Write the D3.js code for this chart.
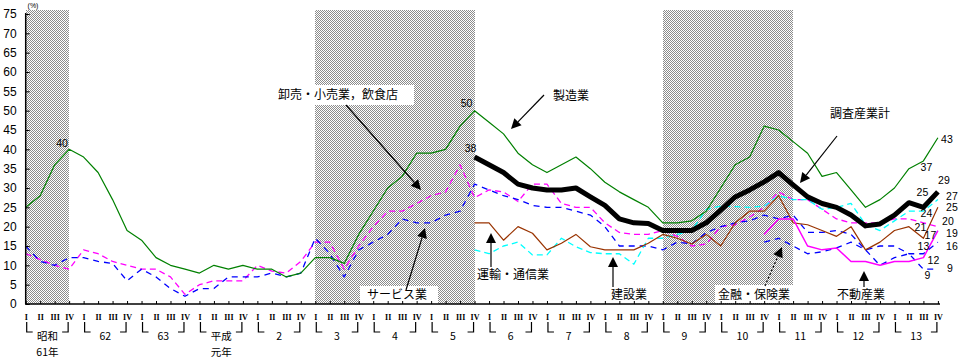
<!DOCTYPE html>
<html><head><meta charset="utf-8">
<script src="https://cdn.jsdelivr.net/npm/d3@7"></script>
<style>body{margin:0;background:#fff}svg{display:block}</style>
</head><body><div id="chart"></div>
<script>
// ---- data ----
const quarterLabels = ["I","II","III","IV"];
const yearLabels = [["昭和","61年"],["62"],["63"],["平成","元年"],["2"],["3"],["4"],["5"],["6"],["7"],["8"],["9"],["10"],["11"],["12"],["13"]];
const yTicks = [0,5,10,15,20,25,30,35,40,45,50,55,60,65,70,75];
const recessions = [[0,3],[20,31],[44,53]];

// 製造業 (1986 I – 2001 IV)
const manufacturing = [25,28,36,40,38,34,27,19,16.5,12,10,9,8,10,9,10,9,9,7,8,
  12,12,10.5,18,24,30,33,39,39,40,46,50,47,44,39,36,34,36,38,35,31.5,29,27,25,
  21,21,21.5,24,30,36,38,46,45,42,39,33,34,29.5,25,27,30,35,37,43];
// 卸売・小売業，飲食店
const wholesale = [13,11.5,10,9,14,13,11,10,9,9,7,2.5,5,6,6,6,10,8.5,8,11,
  16,16,9,15,20,24,24,26,28,29,36,27.5,29.5,29,26.5,31,31,26,25,25,21,18.5,18,18,
  19,17.5,15,15.5,20,20.5,22.5,25,29,27,27,24.5,22,21,21,21,22,22,21,20];
// サービス業
const services = [15,11,10,12,12,11,10.5,6,9,7,4,2,4,4,7,7,7,8,7,8,
  17,13,7,14,16,18,22,21,21,23,24,31,29.5,28,27,25.5,25,25,24,23,20,15,15,15,
  14,16,15.5,18.5,20,21,21.5,23,22,23,18.5,18.5,19,18,14,15,15,13,13,16];
// 調査産業計 (from 1993 IV)
const allIndustries = [38,36,34,31,30,29.5,29.5,30,27.7,25.5,22,21,20.8,
  19,19,19,21,24.3,27.7,29.5,31.6,34,30.8,27.7,26,25,23,20.2,20.7,23,26.2,25,29];
// 建設業 (from 1993 IV)
const construction = [14,13,15,16,12.7,12.7,17,14.8,13.3,13,13,10.3,17,
  17,18,19,24.5,25.3,25.2,25,25.3,28,27,27,24.5,25,26,20.5,19,21.5,24,24,27];
// 運輸・通信業 (from 1993 IV)
const transport = [21,21,16.5,20,18.3,14,15.7,18,14.8,14,14,14,15.7,
  18,17,15.5,18,15,21,24,24,28,21,20.5,19,17.5,20,14,16,19,20,17,25];
// 金融・保険業 (from 1998 IV)
const finance = [16,17,15,13,13.5,14.5,16,14,10,12,13,9,9];
// 不動産業 (from 1998 IV)
const realEstate = [18,22,22,15,14,14.5,11,11,10,11,11,12,19];

const series = [
  {key:"wholesale", start:0, values:wholesale, color:"#ff00ff", width:1.3, dash:"6,4"},
  {key:"services", start:0, values:services, color:"#0000ff", width:1.3, dash:"6,5"},
  {key:"construction", start:31, values:construction, color:"#00ffff", width:1.3, dash:"6,4"},
  {key:"transport", start:31, values:transport, color:"#993300", width:1.2, dash:null},
  {key:"finance", start:51, values:finance, color:"#0000ff", width:1.3, dash:"6,5"},
  {key:"realEstate", start:51, values:realEstate, color:"#ff00ff", width:1.5, dash:null},
  {key:"manufacturing", start:0, values:manufacturing, color:"#008000", width:1.2, dash:null},
  {key:"allIndustries", start:31, values:allIndustries, color:"#000000", width:5, dash:null}
];

// value labels: series key, quarter index, label offset (layout)
const valueLabels = [
  ["manufacturing",3,-7,-6],["manufacturing",31,-8,-8],["allIndustries",31,-4,-9],
  ["manufacturing",63,9,1],["manufacturing",62,3,6],
  ["allIndustries",63,6,-12],["allIndustries",62,-1,-15],
  ["construction",63,14,-4],["transport",63,14,0],["construction",62,3,2],
  ["wholesale",63,10,-6],["wholesale",62,-3,4],["realEstate",63,14,2.5],
  ["transport",62,7,-3],["services",63,14,3.5],["services",62,0,-8],
  ["realEstate",62,10,2],["finance",62,4,6],["finance",63,12,-1]
];

// ---- drawing ----
const W = 962, H = 358;
const svg = d3.select("#chart").append("svg").attr("width", W).attr("height", H)
  .style("font-family","'Noto Sans CJK JP', sans-serif");

const x = d3.scaleLinear().domain([0,63]).range([25.7, 937.9]);
const y = d3.scaleLinear().domain([0,75]).range([304, 14]);

const defs = svg.append("defs");
const pat = defs.append("pattern").attr("id","dither").attr("patternUnits","userSpaceOnUse")
  .attr("width",2).attr("height",2);
pat.append("rect").attr("width",2).attr("height",2).attr("fill","#fff");
pat.append("rect").attr("x",0).attr("y",0).attr("width",1).attr("height",1).attr("fill","#8c8c8c");
pat.append("rect").attr("x",1).attr("y",1).attr("width",1).attr("height",1).attr("fill","#8c8c8c");

// shaded bands
svg.append("g").selectAll("rect").data(recessions).join("rect")
  .attr("x", d => x(d[0])).attr("y", 10)
  .attr("width", d => x(d[1]) - x(d[0])).attr("height", y(0) - 10)
  .attr("fill","url(#dither)").attr("shape-rendering","crispEdges");

// white label boxes
const boxes = [[276,85,138,20],[360,286,78,18],[715,285,78,18]];
svg.append("g").selectAll("rect").data(boxes).join("rect")
  .attr("x",d=>d[0]).attr("y",d=>d[1]).attr("width",d=>d[2]).attr("height",d=>d[3]).attr("fill","#fff");

// lines
const line = d3.line().defined(d => d.v != null).x(d => x(d.q)).y(d => y(d.v));
svg.append("g").selectAll("path").data(series).join("path")
  .attr("d", s => line(s.values.map((v,i) => ({q:s.start+i, v}))))
  .attr("fill","none").attr("stroke", s => s.color).attr("stroke-width", s => s.width)
  .attr("stroke-dasharray", s => s.dash).attr("stroke-linejoin","round");

// y axis
const yAxis = d3.axisLeft(y).tickValues(yTicks).tickSize(-4).tickPadding(9);
const gy = svg.append("g").attr("transform","translate(25.7,0)").call(yAxis);
gy.select(".domain").attr("d","M0,13V304").attr("stroke-width",1.5);
gy.selectAll("text").attr("font-family","'Liberation Sans', Arial, sans-serif").attr("font-size",12);
svg.append("text").attr("x",33).attr("y",8).attr("text-anchor","middle")
  .attr("font-size",7).attr("font-family","'Liberation Sans', sans-serif").text("(%)");

// x axis
const xAxis = d3.axisBottom(x).tickValues(d3.range(64)).tickSize(-3).tickPadding(10)
  .tickFormat(i => quarterLabels[i % 4]);
const gx = svg.append("g").attr("transform","translate(0,304)").call(xAxis);
gx.select(".domain").attr("d","M25,0H940").attr("stroke-width",1.5);
gx.selectAll("text").attr("font-family","'Liberation Serif', serif").attr("font-weight","bold").attr("font-size",8);

// year brackets
const years = d3.range(16);
const br = svg.append("g").attr("stroke","#000").attr("fill","none").attr("stroke-width",1.2);
br.selectAll("path").data(years).join("path")
  .attr("d", k => `M${x(4*k)+1},322V332H${x(4*k)+7} M${x(4*k+3)-1},322V332H${x(4*k+3)-7}`);
const yl = svg.append("g").selectAll("g").data(years).join("g");
yl.each(function(k){
  const t = d3.select(this);
  yearLabels[k].forEach((s,j) => {
    t.append("text").attr("text-anchor","middle").attr("font-size",10.5)
      .attr("x", x(4*k+1.5)).attr("y", 340 + j*15.5).text(s);
  });
});

// value labels
const byKey = Object.fromEntries(series.map(s => [s.key, s]));
svg.append("g").selectAll("text").data(valueLabels).join("text")
  .attr("x", d => x(d[1]) + d[2])
  .attr("y", d => y(byKey[d[0]].values[d[1]-byKey[d[0]].start]) + d[3])
  .attr("text-anchor","middle").attr("dominant-baseline","central")
  .attr("font-family","'Liberation Sans', Arial, sans-serif").attr("font-size",10.5)
  .text(d => Math.round(byKey[d[0]].values[d[1]-byKey[d[0]].start]));

// annotations
const notes = [
  ["卸売・小売業，飲食店",278,96],["製造業",553,97],["調査産業計",830,115],
  ["サービス業",367,296],["運輸・通信業",477,276],["建設業",611,296],
  ["金融・保険業",718,296],["不動産業",837,296]
];
svg.append("g").selectAll("text").data(notes).join("text")
  .attr("x",d=>d[1]).attr("y",d=>d[2]).attr("dominant-baseline","middle")
  .attr("font-size",12).text(d=>d[0]);

const arrows = [
  [346,105,421,190,false],[544,95,511,129,false],[837,136,800,183,false],
  [406,290,425,228,false],[491,267,491,233,false],[613,287,613,257,false],
  [765,286,782,247,true],[864,287,864,271,false]
];
const ag = svg.append("g");
arrows.forEach(([x1,y1,x2,y2,dot]) => {
  const a = Math.atan2(y2-y1, x2-x1), L = 10, Wd = 5;
  const bx = x2 - L*Math.cos(a), by = y2 - L*Math.sin(a);
  ag.append("line").attr("x1",x1).attr("y1",y1).attr("x2",bx).attr("y2",by)
    .attr("stroke","#000").attr("stroke-width",1.2).attr("stroke-dasharray", dot ? "2,2" : null);
  ag.append("path").attr("fill","#000")
    .attr("d",`M${x2},${y2}L${bx+Wd*Math.sin(a)},${by-Wd*Math.cos(a)}L${bx-Wd*Math.sin(a)},${by+Wd*Math.cos(a)}Z`);
});
</script></body></html>
